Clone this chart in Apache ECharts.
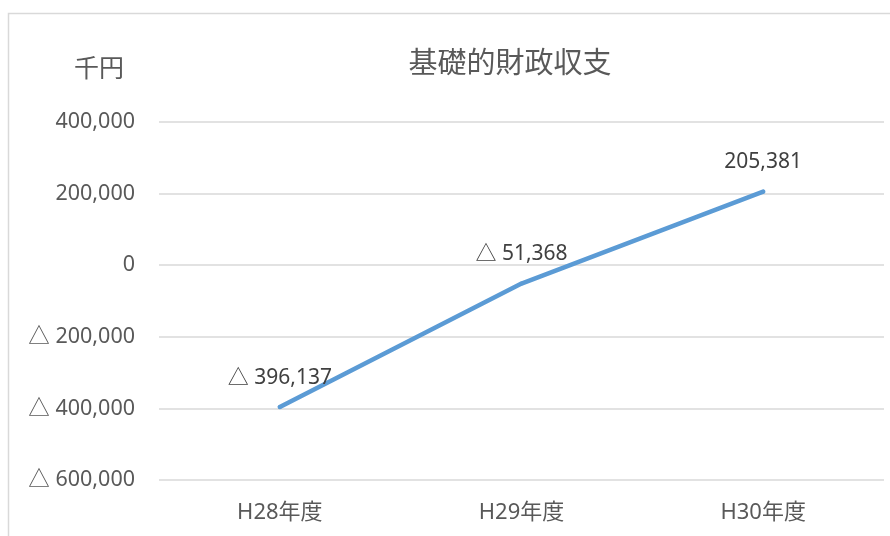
<!DOCTYPE html>
<html>
<head>
<meta charset="utf-8">
<script src="https://cdn.jsdelivr.net/npm/echarts@6/dist/echarts.min.js"></script>
<style>html,body{margin:0;padding:0;background:#fff}#c{width:890px;height:536px}</style>
</head>
<body>
<div id="c"></div>
<script>
const categories = ['H28年度', 'H29年度', 'H30年度'];
const values = [-396137, -51368, 205381];
const yTicks = { min: -600000, max: 400000, interval: 200000 };
const titleText = '基礎的財政収支';
const unitText = '千円';

function fmt(v) {
  const s = Math.abs(v).toLocaleString('en-US');
  return v < 0 ? '△ ' + s : s;
}
const FONT = '"Noto Sans", "Noto Sans CJK JP", sans-serif';
const chart = echarts.init(document.getElementById('c'));
chart.setOption({
  animation: false,
  backgroundColor: '#fff',
  textStyle: { fontFamily: FONT },
  grid: { left: 159, right: 6, top: 122, bottom: 56 },
  graphic: [
    { type: 'rect', shape: { x: 8.5, y: 13.5, width: 1000, height: 700 },
      style: { fill: 'none', stroke: '#d9d9d9', lineWidth: 1.5 }, silent: true },
    { type: 'text', x: 510, y: 65, style: { text: titleText, fill: '#595959', font: '29px ' + FONT, textAlign: 'center', textVerticalAlign: 'middle' } },
    { type: 'text', x: 99, y: 70, style: { text: unitText, fill: '#595959', font: '25px ' + FONT, textAlign: 'center', textVerticalAlign: 'middle' } }
  ],
  xAxis: {
    type: 'category', data: categories, boundaryGap: true,
    axisLine: { show: false }, axisTick: { show: false },
    axisLabel: { color: '#595959', fontSize: 22, margin: 22, fontFamily: FONT }
  },
  yAxis: {
    type: 'value', min: yTicks.min, max: yTicks.max, interval: yTicks.interval,
    axisLine: { show: false }, axisTick: { show: false },
    splitLine: { lineStyle: { color: '#d9d9d9', width: 1.5 } },
    axisLabel: { color: '#595959', fontSize: 21.5, margin: 24, fontFamily: FONT, formatter: fmt }
  },
  series: [{
    type: 'line', data: values, symbol: 'circle', symbolSize: 4, showSymbol: true,
    itemStyle: { color: '#5b9bd5', borderWidth: 0 },
    lineStyle: { color: '#5b9bd5', width: 4.5, cap: 'round', join: 'round' },
    label: { show: true, position: 'top', distance: 17, color: '#404040', fontSize: 21, fontFamily: FONT,
      formatter: p => fmt(p.value) }
  }]
});
</script>
</body>
</html>
